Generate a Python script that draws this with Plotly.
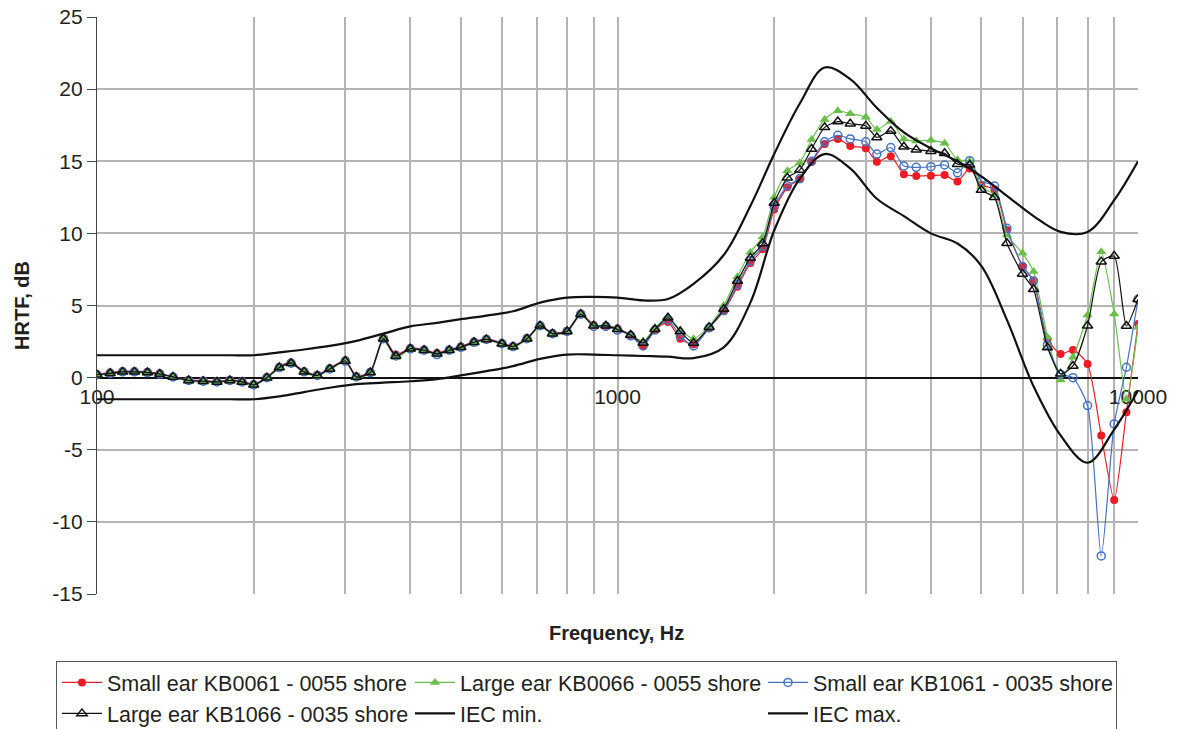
import plotly.graph_objects as go

# 1/12-octave measurement frequencies (Hz)
freqs = [100, 106, 112, 118, 125, 132, 140, 150, 160, 170, 180, 190,
         200, 212, 224, 236, 250, 265, 280, 300, 315, 335, 355, 375,
         400, 425, 450, 475, 500, 530, 560, 600, 630, 670, 710, 750,
         800, 850, 900, 950, 1000, 1060, 1120, 1180, 1250, 1320, 1400, 1500,
         1600, 1700, 1800, 1900, 2000, 2120, 2240, 2360, 2500, 2650, 2800, 3000,
         3150, 3350, 3550, 3750, 4000, 4250, 4500, 4750, 5000, 5300, 5600, 6000,
         6300, 6700, 7100, 7500, 8000, 8500, 9000, 9500, 10000]

# HRTF values (dB), 100 Hz .. 1060 Hz (nearly identical for all ears)
low_small_0055 = [0.25, 0.35, 0.45, 0.45, 0.4, 0.3, 0.05, -0.15, -0.2, -0.25, -0.15, -0.25,
                  -0.45, 0.05, 0.75, 1.05, 0.45, 0.2, 0.65, 1.2, 0.1, 0.4, 2.75, 1.6,
                  2.05, 1.95, 1.7, 1.95, 2.15, 2.5, 2.7, 2.4, 2.2, 2.75, 3.6, 3.1,
                  3.25, 4.45, 3.65, 3.6, 3.4, 2.95]
low_large_0055 = [0.15, 0.25, 0.35, 0.35, 0.3, 0.2, 0.0, -0.25, -0.3, -0.35, -0.25, -0.35,
                  -0.55, -0.05, 0.65, 0.95, 0.35, 0.1, 0.55, 1.1, 0.0, 0.3, 2.6, 1.4,
                  1.95, 1.85, 1.6, 1.85, 2.05, 2.4, 2.6, 2.3, 2.1, 2.65, 3.55, 3.0,
                  3.15, 4.35, 3.6, 3.65, 3.35, 3.0]
low_small_0035 = [0.2, 0.3, 0.4, 0.4, 0.35, 0.25, 0.05, -0.2, -0.25, -0.3, -0.2, -0.3,
                  -0.5, 0.0, 0.7, 1.0, 0.4, 0.15, 0.6, 1.15, 0.05, 0.35, 2.7, 1.5,
                  2.0, 1.9, 1.6, 1.9, 2.1, 2.45, 2.65, 2.35, 2.15, 2.7, 3.6, 3.05,
                  3.2, 4.4, 3.55, 3.55, 3.3, 2.9]
low_large_0035 = [0.2, 0.3, 0.4, 0.4, 0.35, 0.25, 0.05, -0.2, -0.25, -0.3, -0.2, -0.3,
                  -0.5, 0.0, 0.7, 1.0, 0.4, 0.15, 0.6, 1.15, 0.05, 0.35, 2.7, 1.5,
                  2.0, 1.9, 1.65, 1.9, 2.1, 2.45, 2.65, 2.35, 2.15, 2.7, 3.6, 3.05,
                  3.2, 4.4, 3.6, 3.6, 3.35, 2.95]

# HRTF values (dB), 1120 Hz .. 10000 Hz
high_small_0055 = [2.2, 3.3, 3.85, 2.7, 2.3, 3.45, 4.6, 6.3, 7.95, 8.9, 11.65, 13.2,
                   13.75, 14.95, 16.2, 16.55, 16.05, 15.9, 14.97, 15.35, 14.1, 13.98, 14.0, 14.05,
                   13.6, 14.5, 13.35, 13.05, 10.24, 7.74, 6.72, 2.66, 1.64, 1.92, 0.95, -4.02,
                   -8.48, -2.4, 3.72]
high_large_0055 = [2.5, 3.45, 4.2, 3.3, 2.7, 3.55, 5.0, 7.0, 8.7, 9.75, 12.5, 14.35,
                   14.9, 16.5, 17.9, 18.5, 18.3, 18.05, 17.2, 17.75, 16.55, 16.4, 16.45, 16.24,
                   15.1, 15.0, 13.24, 12.66, 9.89, 8.62, 7.35, 2.8, -0.16, 1.41, 4.35, 8.73,
                   4.41, -1.5, 3.49]
high_small_0035 = [2.2, 3.3, 4.0, 2.9, 2.2, 3.45, 4.65, 6.45, 8.1, 9.1, 11.85, 13.3,
                   13.8, 15.0, 16.35, 16.8, 16.55, 16.35, 15.5, 15.95, 14.67, 14.58, 14.62, 14.74,
                   14.2, 15.04, 13.63, 13.28, 10.35, 7.7, 6.7, 2.27, 0.24, 0.0, -1.94, -12.36,
                   -3.21, 0.72, 5.43]
high_large_0035 = [2.4, 3.35, 4.15, 3.2, 2.4, 3.5, 4.75, 6.7, 8.3, 9.3, 12.1, 13.85,
                   14.4, 15.85, 17.35, 17.75, 17.6, 17.45, 16.65, 17.1, 16.0, 15.8, 15.7, 15.55,
                   14.8, 14.75, 13.0, 12.5, 9.31, 7.19, 6.13, 2.08, 0.26, 0.81, 3.6, 8.04,
                   8.43, 3.58, 5.43]

small_0055 = low_small_0055 + high_small_0055
large_0055 = low_large_0055 + high_large_0055
small_0035 = low_small_0035 + high_small_0035
large_0035 = low_large_0035 + high_large_0035

# IEC tolerance limits, 1/6-octave frequencies
iec_freqs = [100, 112, 125, 140, 160, 180, 200, 224, 250, 280, 315, 355, 400, 450,
             500, 560, 630, 710, 800, 900, 1000, 1120, 1250, 1400, 1600, 1800, 2000,
             2240, 2500, 2800, 3150, 3550, 4000, 4500, 5000, 5600, 6300, 7100, 8000,
             9000, 10000]
iec_min = [-1.5, -1.5, -1.5, -1.5, -1.5, -1.5, -1.5, -1.3, -1.0, -0.7, -0.45, -0.35, -0.25, -0.1,
           0.15, 0.45, 0.8, 1.3, 1.6, 1.6, 1.55, 1.5, 1.45, 1.35, 2.1, 5.2, 10.2,
           13.8, 15.5, 14.5, 12.4, 11.2, 10.0, 9.3, 7.75, 4.0, -0.6, -4.0, -5.9,
           -3.6, -0.9]
iec_max = [1.55, 1.55, 1.55, 1.55, 1.55, 1.55, 1.55, 1.75, 1.95, 2.2, 2.55, 3.05, 3.55, 3.8,
           4.05, 4.3, 4.6, 5.2, 5.55, 5.6, 5.55, 5.35, 5.45, 6.5, 8.5, 11.9, 15.5,
           19.0, 21.5, 20.7, 18.7, 17.0, 15.9, 15.0, 13.95, 12.6, 11.2, 10.1, 10.1,
           12.3, 15.0]

x_tickvals = [100, 200, 300, 400, 500, 600, 700, 800, 900, 1000,
              2000, 3000, 4000, 5000, 6000, 7000, 8000, 9000, 10000]
x_ticktext = ["100", "", "", "", "", "", "", "", "", "1000",
              "", "", "", "", "", "", "", "", "10000"]
y_tickvals = [-15, -10, -5, 0, 5, 10, 15, 20, 25]
y_ticktext = ["-15", "-10", "-5", "0", "5", "10", "15", "20", "25"]

FONT = "Liberation Sans, Arial, sans-serif"
RED = "#ed1c24"
GREEN = "#6abf4b"
BLUE = "#4472c4"

W, H = 1180, 729

fig = go.Figure()
fig.add_trace(go.Scatter(
    x=freqs, y=small_0055, name="Small ear KB0061 - 0055 shore", mode="lines+markers",
    line=dict(color=RED, width=1.2, shape="spline", smoothing=0.6),
    marker=dict(symbol="circle", size=8, color=RED)))
fig.add_trace(go.Scatter(
    x=freqs, y=large_0055, name="Large ear KB0066 - 0055 shore", mode="lines+markers",
    line=dict(color=GREEN, width=1.2, shape="spline", smoothing=0.6),
    marker=dict(symbol="triangle-up", size=9, color=GREEN)))
fig.add_trace(go.Scatter(
    x=freqs, y=small_0035, name="Small ear KB1061 - 0035 shore", mode="lines+markers",
    line=dict(color=BLUE, width=1.2, shape="spline", smoothing=0.6),
    marker=dict(symbol="circle-open", size=8, color=BLUE, line=dict(width=1.5))))
fig.add_trace(go.Scatter(
    x=freqs, y=large_0035, name="Large ear KB1066 - 0035 shore", mode="lines+markers",
    line=dict(color="#111111", width=1.2, shape="spline", smoothing=0.6),
    marker=dict(symbol="triangle-up-open", size=9, color="#111111", line=dict(width=1.5))))
fig.add_trace(go.Scatter(
    x=iec_freqs, y=iec_min, name="IEC min.", mode="lines",
    line=dict(color="#111111", width=2.2, shape="spline", smoothing=1.0)))
fig.add_trace(go.Scatter(
    x=iec_freqs, y=iec_max, name="IEC max.", mode="lines",
    line=dict(color="#111111", width=2.2, shape="spline", smoothing=1.0)))

fig.update_layout(
    width=W, height=H,
    margin=dict(l=97, r=42, t=17, b=135, autoexpand=False),
    paper_bgcolor="white", plot_bgcolor="white",
    font=dict(family=FONT, size=20, color="#231f20"),
    showlegend=True,
    legend=dict(orientation="h", x=-0.0394, xanchor="left", y=-0.1161, yanchor="top",
                bordercolor="#555555", borderwidth=1, entrywidth=298, entrywidthmode="pixels",
                font=dict(family=FONT, size=21.5, color="#231f20"), tracegroupgap=0,
                itemwidth=40),
    xaxis=dict(type="log", range=[2, 4], tickvals=x_tickvals, ticktext=x_ticktext,
               showgrid=True, gridcolor="#b4b4b4", gridwidth=1.5,
               showline=True, linecolor="#111111", linewidth=1.5,
               anchor="free", position=0.375, ticks="", ticklen=0,
               tickfont=dict(family=FONT, size=21, color="#231f20"),
               ticklabeloverflow="allow",
               zeroline=False, layer="below traces", automargin=False),
    yaxis=dict(range=[-15, 25], tickvals=y_tickvals, ticktext=y_ticktext,
               showgrid=True, gridcolor="#b4b4b4", gridwidth=1.5,
               showline=True, linecolor="#444444", linewidth=1.2,
               ticks="outside", ticklen=9, tickcolor="#444444",
               tickfont=dict(family=FONT, size=21, color="#231f20"),
               ticklabeloverflow="allow",
               zeroline=False, automargin=False,
               title=dict(text="<b>HRTF, dB</b>", font=dict(family=FONT, size=20), standoff=17)),
    annotations=[dict(text="<b>Frequency, Hz</b>", xref="paper", yref="paper",
                      x=0.4995, y=-0.0676, xanchor="center", yanchor="middle",
                      showarrow=False, font=dict(family=FONT, size=20, color="#231f20"))],
)

fig.write_html("out.html", config={"displayModeBar": False},
               post_script="document.body.style.margin='0';document.body.style.overflow='hidden';")
